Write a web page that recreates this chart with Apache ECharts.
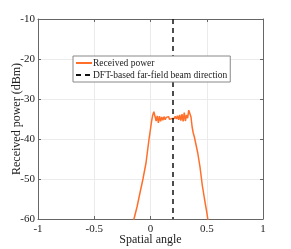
<!DOCTYPE html>
<html><head><meta charset="utf-8">
<script src="https://cdn.jsdelivr.net/npm/echarts@6/dist/echarts.min.js"></script>
<style>html,body{margin:0;padding:0;background:#fff}#c{width:291px;height:249px}</style>
</head><body><div id="c"></div>
<script>
const angles = [-0.16,-0.147,-0.12,-0.09,-0.067,-0.04,-0.013,0.0,0.01,0.02,0.03,0.04,0.05,0.06,0.07,0.08,0.09,0.10,0.11,0.12,0.13,0.14,0.15,0.16,0.17,0.18,0.19,0.20,0.21,0.22,0.23,0.24,0.25,0.26,0.27,0.28,0.29,0.30,0.31,0.32,0.33,0.34,0.35,0.36,0.37,0.38,0.39,0.40,0.42,0.44,0.46,0.48,0.50,0.52];
const power = [-61.5,-60,-57,-53,-50,-46,-40,-37.5,-35.5,-34,-33.2,-33.6,-35.5,-34.2,-36,-34.3,-35.6,-34.5,-35.3,-34.4,-35.2,-34.6,-35.0,-34.4,-35.1,-34.6,-34.9,-34.5,-34.9,-34.3,-35.0,-34.2,-35.2,-34.0,-35.4,-33.8,-35.6,-33.4,-35.5,-34.0,-34.8,-32.8,-32.5,-34.5,-37,-38.5,-39.5,-40,-43.5,-47,-51.5,-55,-58.3,-62];
const beamX = [0.2, 0.2];
const beamY = [-10, -60];
const xTicks = [-1, -0.5, 0, 0.5, 1];
const yTicks = [-60, -50, -40, -30, -20, -10];
const seriesNames = ['Received power', 'DFT-based far-field beam direction'];

const font = 'Liberation Serif';
const chart = echarts.init(document.getElementById('c'));
const axisCommon = {
  axisLine: {show: true, onZero: false, lineStyle: {color: '#666', width: 1}},
  axisTick: {show: true, inside: true, length: 3, lineStyle: {color: '#666'}},
};
chart.setOption({
  animation: false,
  grid: {left: 38, right: 28, top: 19, bottom: 30, containLabel: false, outerBoundsMode: 'none'},
  legend: {
    orient: 'vertical', left: 73, top: 56,
    data: seriesNames,
    backgroundColor: '#fff', borderColor: '#888', borderWidth: 1,
    padding: [2, 3, 2, 2], itemGap: 2, itemWidth: 16, itemHeight: 10,
    itemStyle: {opacity: 0},
    textStyle: {fontFamily: font, fontSize: 9.5, color: '#222', padding: [0,0,0,-4]}
  },
  xAxis: [{
    type: 'value', min: xTicks[0], max: xTicks[xTicks.length-1], interval: 0.5,
    name: 'Spatial angle', nameLocation: 'middle', nameGap: 15, nameMoveOverlap: false,
    nameTextStyle: {fontFamily: font, fontSize: 12, color: '#222'},
    axisLabel: {fontFamily: font, fontSize: 11, color: '#222', margin: 5},
    splitLine: {show: true, lineStyle: {color: '#ebebeb'}},
    ...axisCommon
  }, {
    type: 'value', position: 'top', min: -1, max: 1, interval: 0.5,
    axisLabel: {show: false}, splitLine: {show: false}, ...axisCommon
  }],
  yAxis: [{
    type: 'value', min: yTicks[0], max: yTicks[yTicks.length-1], interval: 10,
    name: 'Received power (dBm)', nameLocation: 'middle', nameGap: 15, nameMoveOverlap: false,
    nameTextStyle: {fontFamily: font, fontSize: 12, color: '#222'},
    axisLabel: {fontFamily: font, fontSize: 11, color: '#222', margin: 3},
    splitLine: {show: true, lineStyle: {color: '#ebebeb'}},
    ...axisCommon
  }, {
    type: 'value', position: 'right', min: -60, max: -10, interval: 10,
    axisLabel: {show: false}, splitLine: {show: false}, ...axisCommon
  }],
  series: [{
    name: seriesNames[0], type: 'line', symbol: 'none', clip: true,
    data: angles.map((a, i) => [a, power[i]]),
    lineStyle: {color: '#ff6f2a', width: 1.5}, itemStyle: {color: '#ff6f2a'}
  }, {
    name: seriesNames[1], type: 'line', symbol: 'none',
    data: beamX.map((a, i) => [a, beamY[i]]),
    lineStyle: {color: '#111', width: 1.5, type: [5, 4]}, itemStyle: {color: '#111'}
  }]
});
</script></body></html>
